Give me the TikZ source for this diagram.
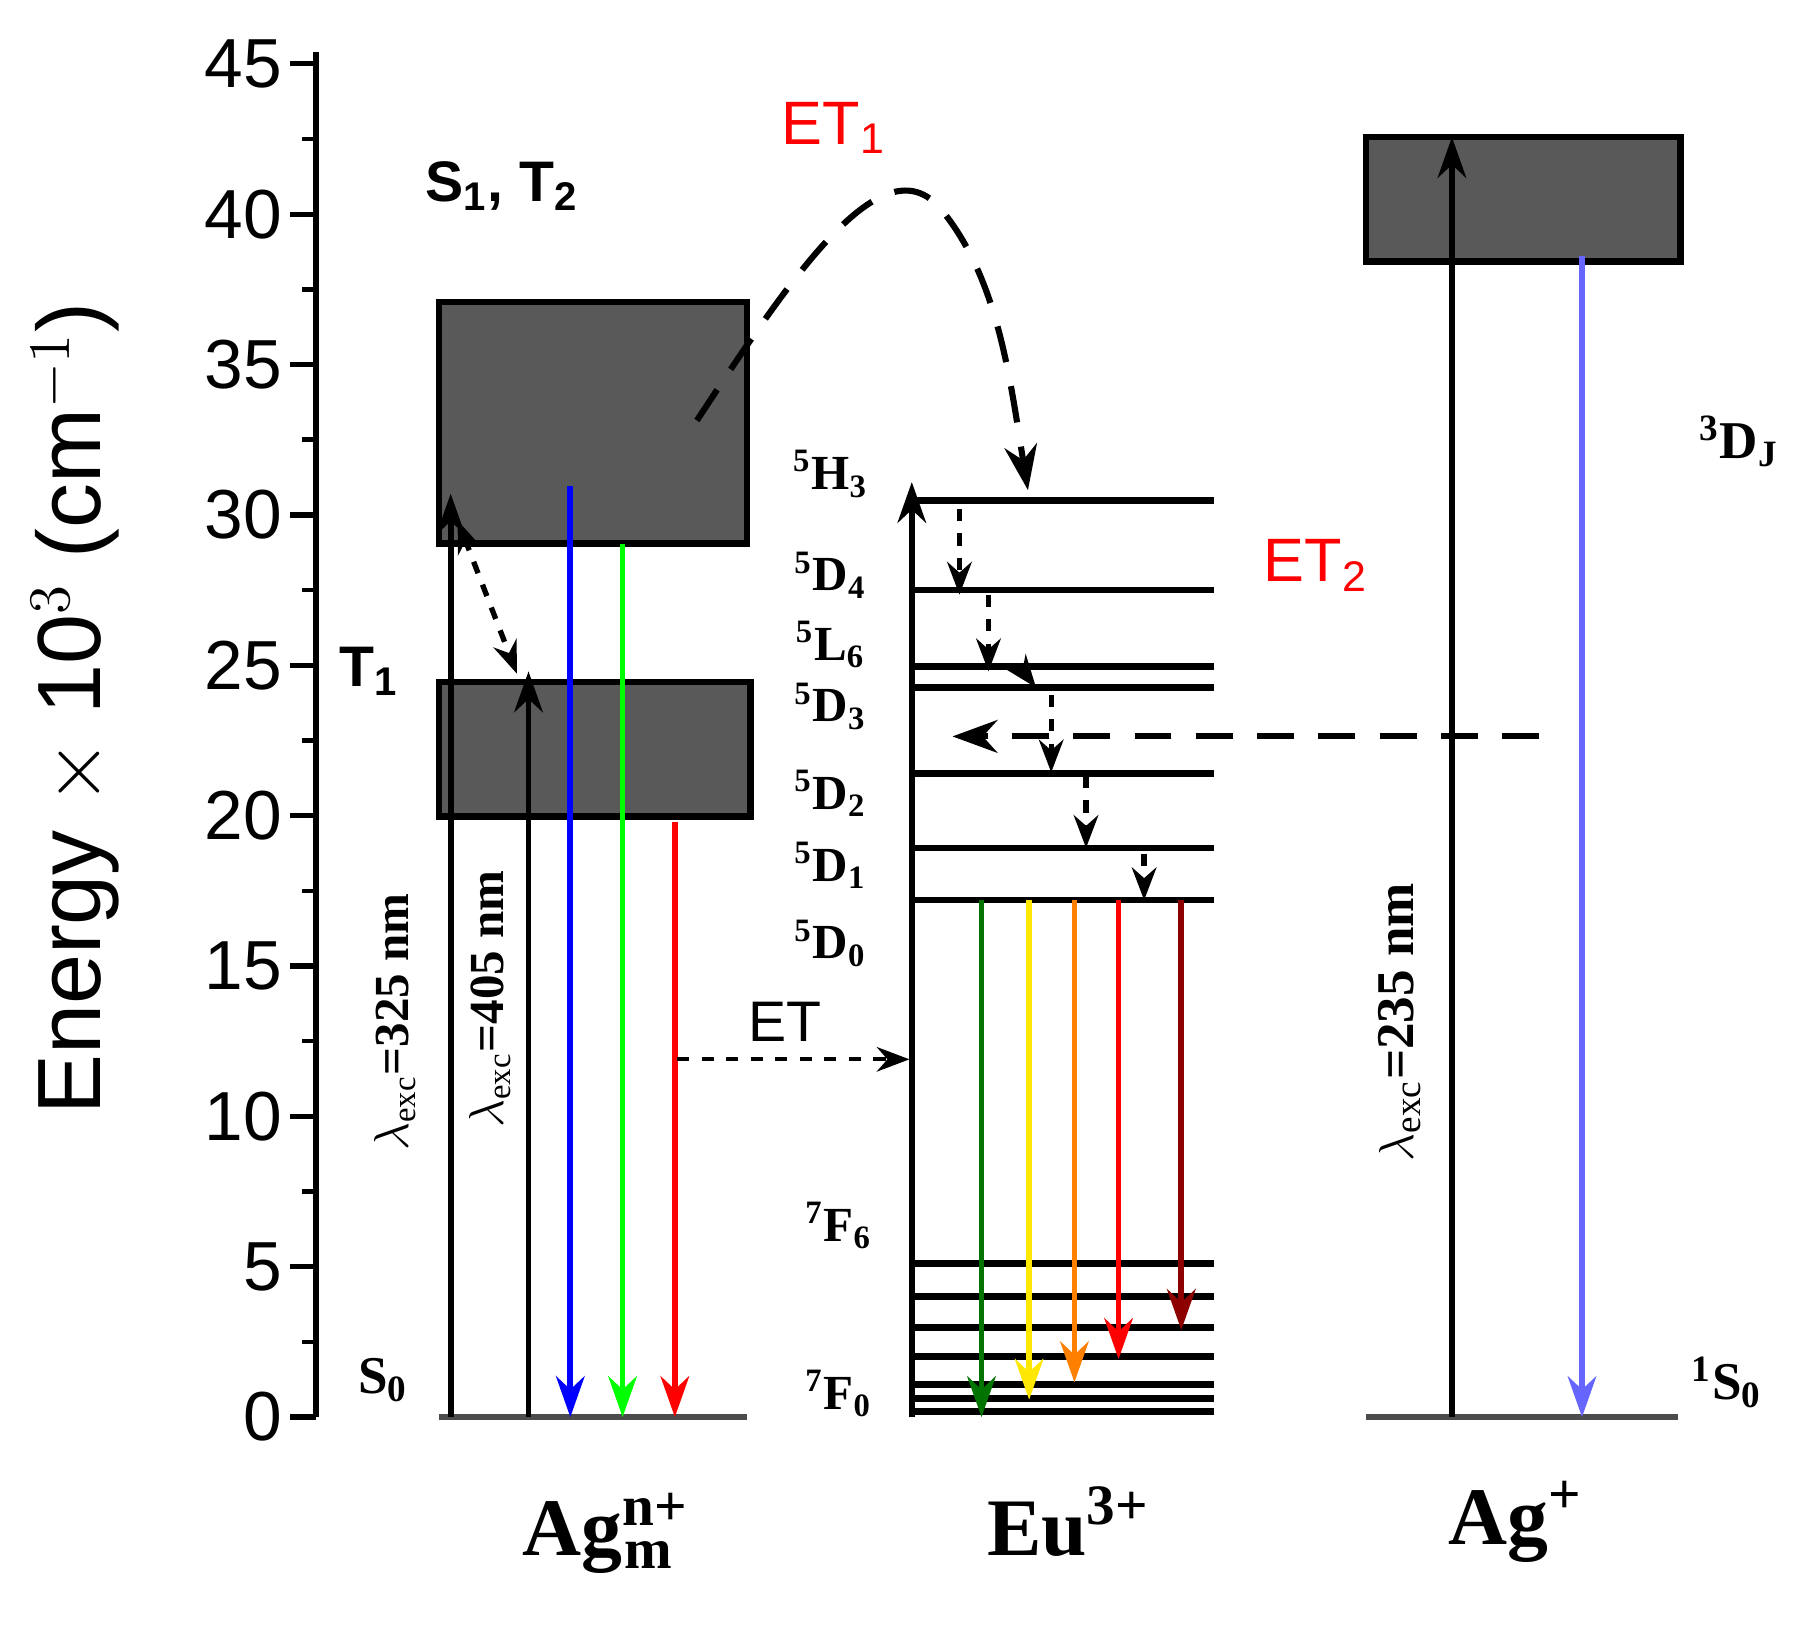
\documentclass[tikz,border=0pt]{standalone}
\usepackage{fontspec}
\setmainfont{Liberation Serif}
\newfontfamily\sansf{Liberation Sans}
\usetikzlibrary{arrows.meta}
\begin{document}
\begin{tikzpicture}[x=0.01cm,y=-0.01cm,
 lvl/.style={line width=1.6pt},
 box/.style={draw=black,line width=1.6pt,fill=black!65},
 ar/.style={line width=1.4pt,-{Stealth[length=10pt,width=7pt]}},
 da/.style={line width=1.3pt,dashed,-{Stealth[length=8pt,width=6pt]}},
 term/.style={font=\fontsize{12}{12}\selectfont\bfseries\boldmath},
 big/.style={font=\fontsize{20}{20}\selectfont\bfseries\boldmath},
 tick/.style={font=\sansf\fontsize{17}{17}\selectfont,anchor=east}]
\useasboundingbox (0,0) rectangle (1560,1400);
% axis
\draw[line width=1.3pt] (272,45) -- (272,1220);
\foreach \e in {0,5,...,45}{
 \draw[line width=1.3pt] (250,{1220-\e*25.89}) -- (272,{1220-\e*25.89});
 \node[tick] at (255,{1220-\e*25.89}) {\e};}
\foreach \e in {2.5,7.5,...,42.5}{
 \draw[line width=1.1pt] (260,{1220-\e*25.89}) -- (272,{1220-\e*25.89});}
\node[rotate=90,font=\sansf\fontsize{22}{22}\selectfont] (al) at (65,610) {Energy $\times$ 10$^3$ (cm$^{-1}$)};
% Ag_m
\draw[box] (378,260) rectangle (643,468);
\draw[box] (378,587) rectangle (646,703);
\draw[line width=1.4pt,black!70] (378,1220) -- (643,1220);
\coordinate (a1) at (388,1220); \coordinate (a1t) at (388,425);
\coordinate (a2) at (455,1220); \coordinate (a2t) at (455,578);
\draw[ar] (a1) -- (a1t);
\draw[ar] (a2) -- (a2t);
\draw[line width=1.3pt,dashed,{Stealth[length=8pt,width=6pt]}-{Stealth[length=8pt,width=6pt]}] (394,448) -- (445,580);
\draw[ar,blue] (491,418) -- (491,1220);
\draw[ar,green] (536,468) -- (536,1220);
\draw[ar,red] (581,708) -- (581,1220);
\node[font=\fontsize{12}{12}\selectfont\bfseries,rotate=90] at (340,880) {$\lambda_{\mathrm{exc}}$=325 nm};
\node[font=\fontsize{12}{12}\selectfont\bfseries,rotate=90] at (422,860) {$\lambda_{\mathrm{exc}}$=405 nm};
\node[font=\sansf\fontsize{14}{14}\selectfont\bfseries] at (432,160) {S\textsubscript{1}, T\textsubscript{2}};
\node[font=\sansf\fontsize{14}{14}\selectfont\bfseries] at (318,578) {T\textsubscript{1}};
\node[term,font=\fontsize{13}{13}\selectfont\bfseries] at (330,1188) {S\textsubscript{0}};
% Eu
\coordinate (eb) at (785,1220); \coordinate (et) at (785,415);
\draw[ar] (eb) -- (et);
\foreach \y in {431,508,574,592,666,730,775,1088,1116,1143,1168,1192,1204,1215}
 \draw[lvl] (785,\y) -- (1045,\y);
\node[term] at (715,408) {\textsuperscript{5}H\textsubscript{3}};
\node[term] at (715,495) {\textsuperscript{5}D\textsubscript{4}};
\node[term] at (715,555) {\textsuperscript{5}L\textsubscript{6}};
\node[term] at (715,608) {\textsuperscript{5}D\textsubscript{3}};
\node[term] at (715,683) {\textsuperscript{5}D\textsubscript{2}};
\node[term] at (715,745) {\textsuperscript{5}D\textsubscript{1}};
\node[term] at (715,812) {\textsuperscript{5}D\textsubscript{0}};
\node[term] at (722,1055) {\textsuperscript{7}F\textsubscript{6}};
\node[term] at (722,1200) {\textsuperscript{7}F\textsubscript{0}};
\draw[da] (826,438) -- (826,512);
\draw[da] (851,512) -- (851,578);
\draw[da] (878,574) -- (892,592);
\draw[da] (905,598) -- (905,665);
\draw[da] (935,668) -- (935,730);
\draw[da] (985,735) -- (985,775);
\draw[ar,green!45!black] (845,775) -- (845,1220);
\draw[ar,yellow!90!orange] (886,775) -- (886,1205);
\draw[ar,orange] (925,775) -- (925,1190);
\draw[ar,red] (963,775) -- (963,1170);
\draw[ar,red!55!black] (1017,775) -- (1017,1145);
\node[big] at (920,1310) {Eu\textsuperscript{3+}};
% ET
\coordinate (etS) at (583,912);
\draw[line width=1pt,dashed,-{Stealth[length=8pt,width=6pt]}] (etS) -- (783,912);
\node[font=\sansf\fontsize{14}{14}\selectfont] at (676,880) {ET};
% Ag+
\draw[box] (1176,118) rectangle (1447,225);
\draw[line width=1.4pt,black!70] (1176,1220) -- (1445,1220);
\coordinate (g1) at (1250,1220); \coordinate (g1t) at (1250,118);
\draw[ar] (g1) -- (g1t);
\draw[ar,blue!60!white] (1362,220) -- (1362,1220);
\node[font=\fontsize{13}{13}\selectfont\bfseries,rotate=90] at (1205,880) {$\lambda_{\mathrm{exc}}$=235 nm};
\node[term,font=\fontsize{13}{13}\selectfont\bfseries] at (1497,380) {\textsuperscript{3}D\textsubscript{J}};
\node[term,font=\fontsize{13}{13}\selectfont\bfseries] at (1487,1190) {\textsuperscript{1}S\textsubscript{0}};
% ET1, ET2
\draw[line width=1.5pt,dash pattern=on 9pt off 6pt,-{Stealth[length=11pt,width=8pt]}] (600,362) .. controls (680,240) and (760,120) .. (810,180) .. controls (860,240) and (870,330) .. (885,422);
\draw[line width=1.5pt,dash pattern=on 9pt off 6pt,-{Stealth[length=11pt,width=8pt]}] (1325,634) -- (820,634);
\node[font=\sansf\fontsize{15}{15}\selectfont,red] at (718,110) {ET\textsubscript{1}};
\node[font=\sansf\fontsize{15}{15}\selectfont,red] at (1133,487) {ET\textsubscript{2}};
% bottom labels
\node[big] at (530,1320) {Ag\textsuperscript{\rlap{n+}}\textsubscript{m}\hphantom{\textsuperscript{n}}};
\node[big] at (1305,1310) {Ag\textsuperscript{+}};
\end{tikzpicture}
\end{document}
